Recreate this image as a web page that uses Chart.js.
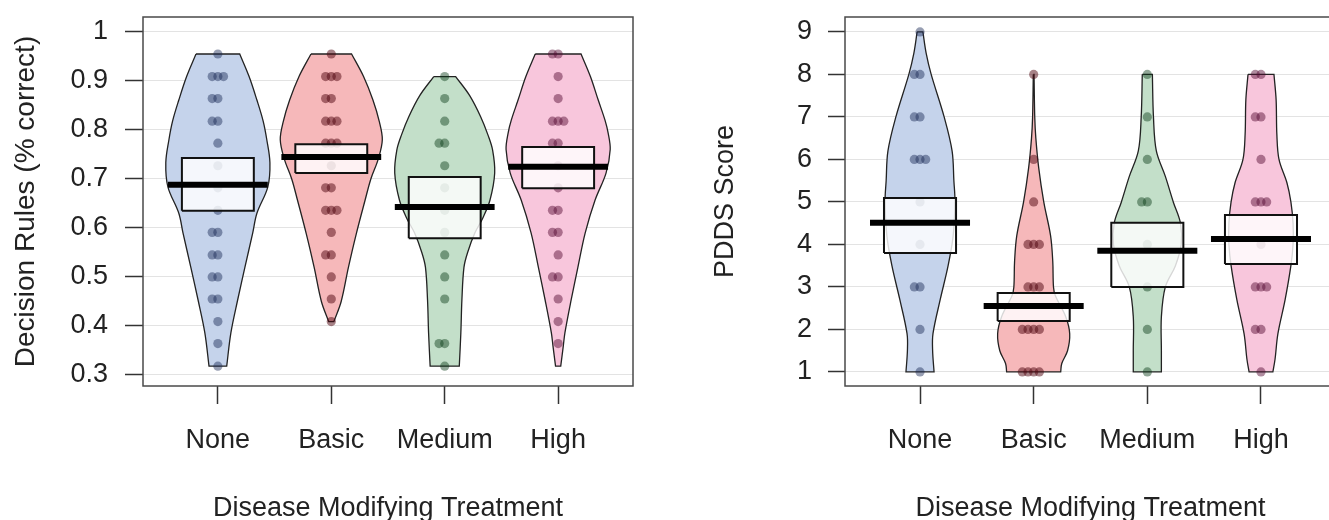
<!DOCTYPE html>
<html>
<head>
<meta charset="utf-8">
<script src="https://cdn.jsdelivr.net/npm/chart.js@4.4.1/dist/chart.umd.min.js"></script>
<style>
  html, body { margin: 0; padding: 0; background: #fff; overflow: hidden; }
  body { width: 1329px; height: 520px; position: relative; }
  canvas { position: absolute; top: 0; }
</style>
</head>
<body>
<canvas id="rulesChart" width="660" height="520" style="left:0"></canvas>
<canvas id="pddsChart" width="660" height="520" style="left:700px"></canvas>
<script>
const groups = ['None', 'Basic', 'Medium', 'High'];

// Decision rules (% correct), one value per participant
const rulesNone = [0.955, 0.909, 0.909, 0.909, 0.864, 0.864, 0.818, 0.818, 0.773, 0.727, 0.682, 0.636,
  0.591, 0.591, 0.545, 0.545, 0.5, 0.5, 0.455, 0.455, 0.409, 0.364, 0.318];
const rulesBasic = [0.955, 0.909, 0.909, 0.909, 0.864, 0.864, 0.818, 0.818, 0.818, 0.773, 0.773, 0.773,
  0.727, 0.682, 0.682, 0.636, 0.636, 0.636, 0.591, 0.545, 0.545, 0.5, 0.455, 0.409];
const rulesMedium = [0.909, 0.864, 0.818, 0.773, 0.773, 0.727, 0.682, 0.636, 0.591, 0.545, 0.5, 0.455,
  0.364, 0.364, 0.318];
const rulesHigh = [0.955, 0.955, 0.909, 0.864, 0.818, 0.818, 0.818, 0.773, 0.773, 0.727, 0.682, 0.636,
  0.636, 0.591, 0.591, 0.545, 0.5, 0.5, 0.455, 0.409, 0.364];
const rulesMean = [0.688, 0.745, 0.643, 0.725];
const rulesLow = [0.635, 0.712, 0.579, 0.681];
const rulesHighCI = [0.743, 0.771, 0.704, 0.765];
const rulesTicks = [0.3, 0.4, 0.5, 0.6, 0.7, 0.8, 0.9, 1];

// bean outlines: levels and relative density at each level
const rulesBeanLevels = [
  [0.955, 0.909, 0.861, 0.818, 0.78, 0.733, 0.684, 0.63, 0.59, 0.52, 0.453, 0.386, 0.318],
  [0.955, 0.909, 0.861, 0.818, 0.78, 0.74, 0.70, 0.657, 0.588, 0.52, 0.45, 0.409],
  [0.909, 0.87, 0.827, 0.79, 0.759, 0.712, 0.657, 0.62, 0.59, 0.55, 0.52, 0.453, 0.386, 0.318],
  [0.955, 0.909, 0.861, 0.82, 0.794, 0.76, 0.712, 0.657, 0.59, 0.52, 0.453, 0.386, 0.36, 0.318]
];
const rulesBeanDens = [
  [0.42, 0.6, 0.75, 0.87, 0.94, 1.0, 0.96, 0.75, 0.67, 0.52, 0.38, 0.25, 0.17],
  [0.39, 0.62, 0.8, 0.92, 0.98, 0.9, 0.76, 0.65, 0.48, 0.33, 0.19, 0.05],
  [0.21, 0.48, 0.69, 0.83, 0.92, 0.96, 0.87, 0.73, 0.58, 0.44, 0.37, 0.33, 0.31, 0.28],
  [0.44, 0.62, 0.77, 0.9, 0.96, 1.0, 0.92, 0.71, 0.52, 0.38, 0.25, 0.13, 0.1, 0.05]
];

// PDDS score
const pddsNone = [9, 8, 8, 7, 7, 6, 6, 6, 5, 4, 3, 3, 2, 1];
const pddsBasic = [8, 6, 5, 4, 4, 4, 3, 3, 3, 2, 2, 2, 2, 1, 1, 1, 1];
const pddsMedium = [8, 7, 6, 5, 5, 4, 3, 2, 1];
const pddsHigh = [8, 8, 7, 7, 6, 5, 5, 5, 4, 3, 3, 3, 2, 2, 1];
const pddsMean = [4.51, 2.55, 3.85, 4.13];
const pddsLow = [3.8, 2.2, 3.0, 3.54];
const pddsHighCI = [5.09, 2.86, 4.51, 4.69];
const pddsTicks = [1, 2, 3, 4, 5, 6, 7, 8, 9];

const pddsBeanLevels = [
  [9, 8.5, 8, 7, 6.2, 5.5, 5, 4.2, 3.5, 2.7, 1.9, 1.5, 1],
  [8, 7, 6.5, 5.8, 5, 4.2, 3.6, 3, 2.8, 2.3, 1.9, 1.5, 1.2, 1],
  [8, 7, 6.2, 5.6, 5, 4.5, 4, 3.5, 3, 2.3, 1.5, 1],
  [8, 7.4, 6.6, 6, 5.45, 5, 4.5, 4, 3.5, 2.7, 1.9, 1.3, 1]
];
const pddsBeanDens = [
  [0.08, 0.17, 0.31, 0.67, 0.89, 0.94, 0.97, 0.92, 0.78, 0.56, 0.36, 0.35, 0.39],
  [0.01, 0.03, 0.06, 0.14, 0.28, 0.47, 0.53, 0.55, 0.6, 0.89, 1.0, 0.94, 0.78, 0.75],
  [0.14, 0.17, 0.25, 0.5, 0.72, 0.92, 0.94, 0.78, 0.5, 0.39, 0.39, 0.39],
  [0.36, 0.42, 0.44, 0.5, 0.72, 0.83, 0.89, 0.89, 0.83, 0.67, 0.47, 0.39, 0.33]
];

const beanFill = ['#c5d3eb', '#f6b8ba', '#c3dfc9', '#f8c6dc'];
const pointFill = ['rgba(25,40,85,0.45)', 'rgba(80,5,15,0.5)', 'rgba(10,60,25,0.45)', 'rgba(85,10,50,0.47)'];
const FONT = "'Liberation Sans', Arial, sans-serif";
const jitter = [0, -0.05, 0.05, -0.1, 0.1];

const frame = {
  id: 'frame',
  afterDraw(chart) {
    const {ctx, chartArea: a} = chart;
    ctx.save();
    ctx.strokeStyle = '#4a4a4a';
    ctx.lineWidth = 1.5;
    ctx.strokeRect(a.left, a.top, a.right - a.left, a.bottom - a.top);
    ctx.restore();
  }
};

function beanOutline(center, levels, dens, half) {
  const left = levels.map((v, i) => ({x: center - dens[i] * half, y: v}));
  const right = levels.map((v, i) => ({x: center + dens[i] * half, y: v})).reverse();
  // corners doubled so flat top and bottom stay straight
  return [left[0], ...left, left[left.length - 1], right[0], ...right, right[right.length - 1], left[0]];
}

function pirateChart(id, c) {
  const datasets = [];
  c.values.forEach((vals, g) => {
    const x = g + 1;
    datasets.push({
      data: beanOutline(x, c.levels[g], c.dens[g], c.beanHalf),
      showLine: true, fill: 'shape', tension: 0.35,
      backgroundColor: beanFill[g], borderColor: '#222', borderWidth: 1.3,
      pointRadius: 0, order: 4
    });
    const seen = {};
    datasets.push({
      data: vals.map(v => {
        seen[v] = (seen[v] || 0) + 1;
        return {x: x + jitter[(seen[v] - 1) % jitter.length], y: v};
      }),
      pointRadius: 4.6, pointBorderWidth: 0, pointBackgroundColor: pointFill[g], order: 3
    });
    datasets.push({
      data: [{x: x - 0.317, y: c.low[g]}, {x: x + 0.317, y: c.low[g]}, {x: x + 0.317, y: c.high[g]},
             {x: x - 0.317, y: c.high[g]}, {x: x - 0.317, y: c.low[g]}],
      showLine: true, fill: 'shape', tension: 0,
      backgroundColor: 'rgba(255,255,255,0.82)', borderColor: '#111', borderWidth: 2,
      pointRadius: 0, order: 2
    });
    datasets.push({
      data: [{x: x - 0.44, y: c.mean[g]}, {x: x + 0.44, y: c.mean[g]}],
      showLine: true, fill: false, borderColor: '#000', borderWidth: 6, borderCapStyle: 'butt',
      pointRadius: 0, order: 1
    });
  });

  return new Chart(document.getElementById(id), {
    type: 'scatter',
    data: {datasets},
    plugins: [frame],
    options: {
      responsive: false, animation: false, devicePixelRatio: 1, events: [],
      layout: {padding: {top: 17, right: c.padRight, bottom: 0, left: 0}},
      plugins: {legend: {display: false}, tooltip: {enabled: false}},
      scales: {
        x: {
          type: 'linear', min: 0.34, max: 4.66,
          afterBuildTicks: s => { s.ticks = groups.map((_, i) => ({value: i + 1})); },
          afterFit: s => { s.height = 134; s.paddingLeft = 0; s.paddingRight = 0; },
          ticks: {callback: v => groups[v - 1], color: '#222', font: {family: FONT, size: 27}, padding: 20, maxRotation: 0, autoSkip: false},
          grid: {drawOnChartArea: false, drawTicks: true, tickLength: 18, tickColor: '#333', tickWidth: 1.5},
          border: {display: false},
          title: {display: true, text: 'Disease Modifying Treatment', color: '#222',
                  font: {family: FONT, size: 27, lineHeight: 0.85}, padding: {top: 0, bottom: 0}}
        },
        y: {
          type: 'linear', min: c.yMin, max: c.yMax,
          afterBuildTicks: s => { s.ticks = c.ticks.map(v => ({value: v})); },
          // fixed width, and no extra room reserved for the end labels
          afterFit: s => { s.width = c.yWidth; s.paddingTop = 0; s.paddingBottom = 0; },
          ticks: {callback: v => String(v), color: '#222', font: {family: FONT, size: 27}, padding: c.tickPad, autoSkip: false},
          grid: {color: '#e3e3e3', lineWidth: 1, drawTicks: true, tickLength: c.tickLen, tickColor: '#333', tickWidth: 1.5},
          border: {display: false},
          title: {display: true, text: c.yTitle, color: '#222',
                  font: {family: FONT, size: c.titleSize, lineHeight: 0.85}, padding: {top: c.titlePad, bottom: 0}}
        }
      }
    }
  });
}

pirateChart('rulesChart', {
  values: [rulesNone, rulesBasic, rulesMedium, rulesHigh],
  levels: rulesBeanLevels, dens: rulesBeanDens,
  mean: rulesMean, low: rulesLow, high: rulesHighCI, ticks: rulesTicks,
  yMin: 0.2775, yMax: 1.0305, beanHalf: 0.459,
  yWidth: 143, padRight: 27, tickLen: 18, tickPad: 17, titlePad: 14, titleSize: 28,
  yTitle: 'Decision Rules (% correct)'
});

pirateChart('pddsChart', {
  values: [pddsNone, pddsBasic, pddsMedium, pddsHigh],
  levels: pddsBeanLevels, dens: pddsBeanDens,
  mean: pddsMean, low: pddsLow, high: pddsHighCI, ticks: pddsTicks,
  yMin: 0.67, yMax: 9.35, beanHalf: 0.317,
  yWidth: 145, padRight: 24, tickLen: 17, tickPad: 16, titlePad: 14, titleSize: 27,
  yTitle: 'PDDS Score'
});
</script>
</body>
</html>
